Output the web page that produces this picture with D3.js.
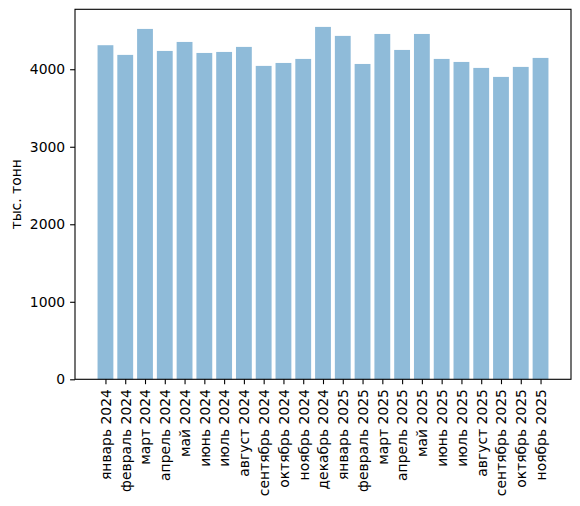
<!DOCTYPE html>
<html><head><meta charset="utf-8">
<script src="https://cdn.jsdelivr.net/npm/d3@7"></script>
<style>body{margin:0;background:#fff}svg{display:block}text{font-family:"DejaVu Sans",sans-serif}</style>
</head><body>
<script>
const months = ["январь 2024","февраль 2024","март 2024","апрель 2024","май 2024","июнь 2024","июль 2024","август 2024","сентябрь 2024","октябрь 2024","ноябрь 2024","декабрь 2024","январь 2025","февраль 2025","март 2025","апрель 2025","май 2025","июнь 2025","июль 2025","август 2025","сентябрь 2025","октябрь 2025","ноябрь 2025"];
const values = [4310,4185,4520,4236,4352,4210,4223,4288,4043,4081,4133,4546,4430,4068,4455,4249,4455,4133,4094,4017,3901,4030,4146];
const yTicks = [0,1000,2000,3000,4000];
const yLabel = "тыс. тонн";

const W=580,H=506, L=75, R=571, T=9.3, B=379.3;
const svg=d3.select("body").append("svg").attr("width",W).attr("height",H);
const n=values.length;
const x=d3.scaleLinear().domain([-0.4-0.05*(n-1+0.8), n-1+0.4+0.05*(n-1+0.8)]).range([L,R]);
const ymax=d3.max(values)*1.05;
const y=d3.scaleLinear().domain([0,ymax]).range([B,T]);

svg.append("g").selectAll("rect").data(values).join("rect")
  .attr("x",(d,i)=>x(i-0.4)).attr("width",(d,i)=>x(i+0.4)-x(i-0.4))
  .attr("y",d=>y(d)).attr("height",d=>y(0)-y(d))
  .attr("fill","#1f77b4").attr("fill-opacity",0.5);

const fs="13.9px";
const yAxis=svg.append("g").attr("transform",`translate(${L},0)`)
  .call(d3.axisLeft(y).tickValues(yTicks).tickFormat(d3.format("d")).tickSize(4.9).tickPadding(4.9));
const xAxis=svg.append("g").attr("transform",`translate(0,${B})`)
  .call(d3.axisBottom(x).tickValues(d3.range(n)).tickFormat(i=>months[i]).tickSize(4.9).tickPadding(4.9));
[yAxis,xAxis].forEach(g=>{g.select(".domain").remove();g.selectAll("line").attr("stroke","#000").attr("stroke-width",1.1);g.selectAll("text").attr("font-size",fs).attr("fill","#000").attr("font-family","DejaVu Sans");});
xAxis.selectAll("text").attr("transform","rotate(-90)").attr("text-anchor","end").attr("dy","0.35em").attr("x",-9.8).attr("y",0);

svg.append("rect").attr("x",L).attr("y",T).attr("width",R-L).attr("height",B-T)
  .attr("fill","none").attr("stroke","#000").attr("stroke-width",1.1);

svg.append("text").attr("transform",`translate(21,${(T+B)/2}) rotate(-90)`)
  .attr("text-anchor","middle").attr("font-size",fs).text(yLabel);
</script>
</body></html>
